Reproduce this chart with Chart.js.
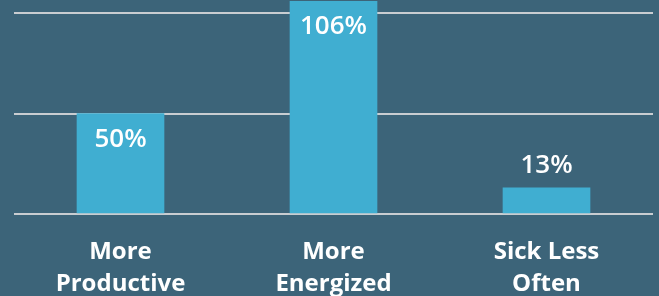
<!DOCTYPE html>
<html>
<head>
<meta charset="utf-8">
<script src="https://cdn.jsdelivr.net/npm/chart.js@4"></script>
<style>
  html, body { margin: 0; padding: 0; background: #3c6479; }
  #wrap { width: 659px; height: 296px; position: relative; }
</style>
</head>
<body>
<div id="wrap"><canvas id="barChart"></canvas></div>
<script>
var categories = [['More', 'Productive'], ['More', 'Energized'], ['Sick Less', 'Often']];
var values = [50, 106, 13];
var gridTicks = [0, 50, 100];

// value labels: inside the bar for tall bars, above it for short ones
var valueLabels = {
	id: 'valueLabels',
	afterDatasetsDraw: function(chart) {
		var ctx = chart.ctx;
		var meta = chart.getDatasetMeta(0);
		ctx.save();
		ctx.fillStyle = '#ffffff';
		ctx.font = '600 26px "Open Sans"';
		ctx.textAlign = 'center';
		ctx.textBaseline = 'middle';
		meta.data.forEach(function(bar, i) {
			var v = values[i];
			var y = v >= 30 ? bar.y + 26 : bar.y - 22;
			ctx.fillText(v + '%', bar.x, y);
		});
		ctx.restore();
	}
};

var ctx = document.getElementById('barChart').getContext('2d');
var barChart = new Chart(ctx, {
	type: 'bar',
	data: {
		labels: categories,
		datasets: [{
			data: values,
			backgroundColor: '#40aed1',
			borderWidth: 0,
			barThickness: 87
		}]
	},
	options: {
		responsive: true,
		maintainAspectRatio: false,
		animation: false,
		layout: {
			padding: { left: 14, right: 6, top: 1, bottom: 0 }
		},
		plugins: {
			legend: { display: false },
			tooltip: { enabled: false }
		},
		scales: {
			x: {
				grid: { display: false },
				border: { display: false },
				afterFit: function(scale) { scale.height = 82; },
				ticks: {
					color: '#ffffff',
					font: { family: '"Open Sans"', size: 24, weight: '700', lineHeight: 1.3 },
					padding: 15,
					maxRotation: 0,
					autoSkip: false
				}
			},
			y: {
				min: 0,
				max: 106,
				afterBuildTicks: function(scale) {
					scale.ticks = gridTicks.map(function(v) { return { value: v }; });
				},
				grid: { color: '#c9cdd1', lineWidth: 2, drawTicks: false },
				border: { display: false },
				ticks: { display: false }
			}
		}
	},
	plugins: [valueLabels]
});
</script>
</body>
</html>
